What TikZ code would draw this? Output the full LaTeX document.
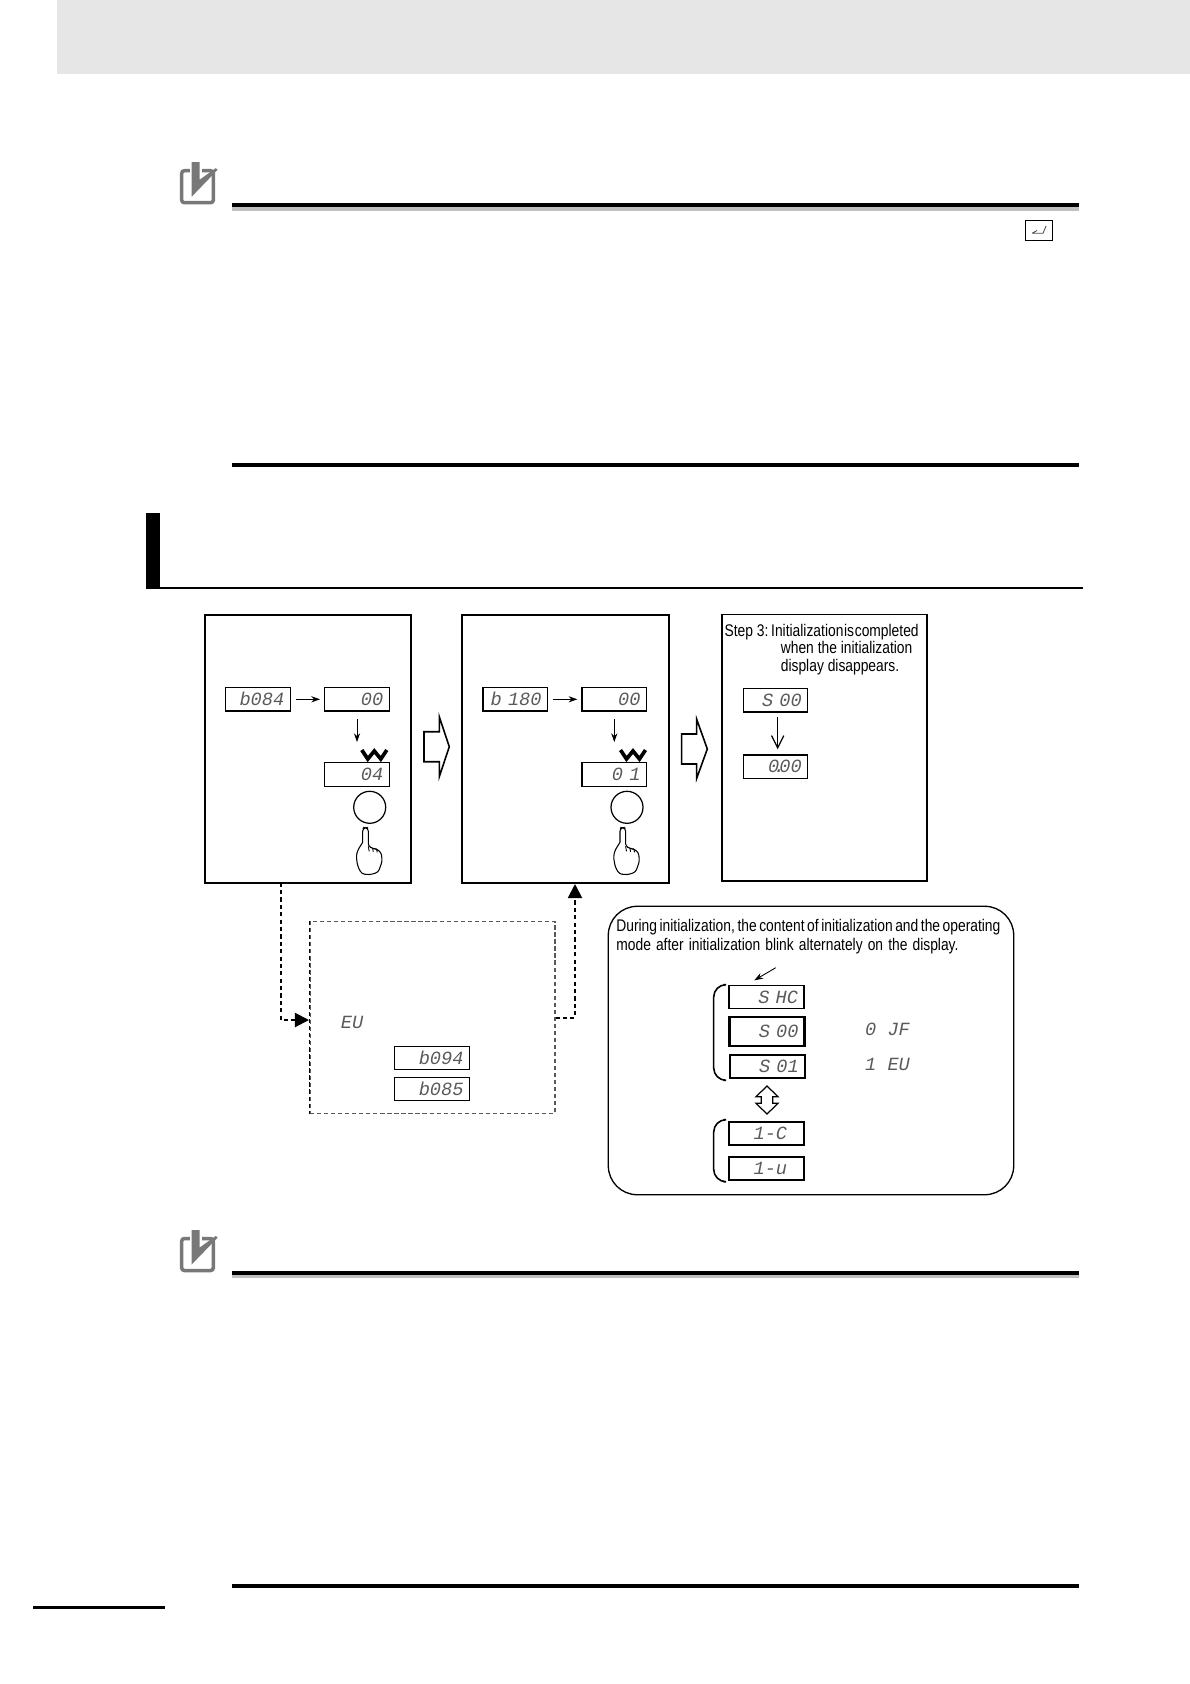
\documentclass[tikz,border=0pt]{standalone}
\usepackage{fontspec}
\usepackage{xcolor}
\usetikzlibrary{calc,arrows.meta,positioning,shapes.geometric}
\setmainfont{Liberation Sans}
\newfontfamily\captfont[FakeStretch=0.82]{Liberation Sans}
\newfontfamily\segfont{Liberation Mono}
\definecolor{headgrey}{RGB}{230,230,230}
\definecolor{icongrey}{RGB}{120,120,120}
\definecolor{seggrey}{RGB}{90,90,90}
\tikzset{
  panelbox/.style={draw, line width=1.1pt, minimum width=4.13cm, minimum height=5.36cm, inner sep=0pt},
  display/.style={draw, line width=.8pt, minimum width=1.29cm, minimum height=.47cm,
    inner xsep=.12cm, inner ysep=0pt, text width=1.05cm, align=right, text=seggrey,
    font=\segfont\itshape\fontsize{10.6}{11}\selectfont},
  widedisplay/.style={display, minimum width=1.5cm, text width=1.26cm},
  seglabel/.style={inner sep=0pt, text=seggrey, font=\segfont\itshape\fontsize{10.6}{11}\selectfont},
  capttext/.style={inner sep=0pt, anchor=base west, align=left, font=\captfont\fontsize{9.6}{10.6}\selectfont},
  keyround/.style={draw, circle, line width=.7pt, minimum size=.64cm, inner sep=0pt},
  thinarrow/.style={-{Stealth[length=5pt,width=3.5pt]}, line width=.5pt},
  dashlink/.style={-{Triangle[length=8pt,width=8pt]}, line width=1.1pt, dash pattern=on 2.4pt off 1.8pt},
  hollowarrow/.style={line width=.9pt, fill=white},
  heavyrule/.style={fill=black},
  notemark/.pic={
    \draw[icongrey, line width=2pt, rounded corners=1.5pt] (0,0) rectangle (31.6,32);
    \fill[white] (8,-9) rectangle (20,4);
    \fill[icongrey] (10,-8.5) -- (18,-8.5) -- (18,9) -- (34,-2.5) -- (36,-1) -- (10,26) -- cycle;
  },
  presshand/.pic={
    \draw[line width=.6pt, rounded corners=1.6pt] (-7,35) -- (-7,21) -- (-4.3,20.5) -- (-1.4,21) -- (-1.4,39) -- (3,41) -- (7,42)
      -- (11.5,45) -- (12.5,54) -- (8.5,65) -- (0,67.5) -- (-8,66.5) -- (-12,59) -- (-13.5,49) -- (-12,43) -- (-7,35);
    \draw[line width=.5pt] (-1.4,39) -- (-.5,44) (3,41) -- (3.5,44.5) (7,42) -- (7.5,45);
  },
  nodevee/.pic={
    \draw[line width=2.1pt, line join=miter] (-12.5,-5) -- (-6.5,4) -- (0,-4) -- (6.5,4) -- (12.5,-5);
  }
}
\begin{document}
\begin{tikzpicture}[x=0.02cm, y=-0.02cm]
  \useasboundingbox (0,0) rectangle (1190,1684);
  % page furniture
  \fill[headgrey] (57,0) rectangle (1190,74);
  \pic at (181.7,170.7) {notemark};
  \fill[heavyrule] (231.7,202.7) rectangle (1079,207.3);
  \fill[black!25] (231.7,207.3) rectangle (1079,210.5);
  \node[draw, line width=.6pt, minimum width=.55cm, minimum height=.4cm, inner sep=0pt] (enterkey) at (1039,230.3) {};
  \draw[black!70, line width=.5pt] (1046,226) -- (1043,233.3) -- (1032,233.3) (1032,233.3) -- (1037,230.5);
  \fill[heavyrule] (231.7,463) rectangle (1079,466.5);
  \fill[heavyrule] (146,513.3) rectangle (160,588.7);
  \fill[heavyrule] (160,586.8) rectangle (1083,588.7);
  \pic at (181.7,1238.5) {notemark};
  \fill[heavyrule] (231.7,1270.7) rectangle (1079,1275);
  \fill[black!25] (231.7,1275) rectangle (1079,1278);
  \fill[heavyrule] (231.7,1583.7) rectangle (1079,1587.7);
  \fill[heavyrule] (33,1606) rectangle (165,1608.6);

  % step panels
  \node[panelbox] (stepA) at (308,748.7) {};
  \node[panelbox] (stepB) at (565.3,748.7) {};
  \node[panelbox, minimum width=4.11cm, minimum height=5.33cm] (stepC) at (824.5,747.7) {};

  % step 1
  \node[display] (dispA) at (258,699.3) {b084};
  \node[display] (dispB) at (357,699.3) {00};
  \node[display] (dispC) at (357,774.5) {04};
  \node[keyround] (keyA) at (369.7,807.3) {};
  \pic at (374.3,755) {nodevee};
  \pic at (keyA.center) {presshand};
  \draw[thinarrow, shorten <=.1cm, shorten >=.08cm] (dispA) -- (dispB);
  \draw[thinarrow, shorten <=.14cm, shorten >=.4cm] (dispB) -- (dispC);

  % step 2
  \node[display] (dispD) at (515.3,699.3) {b 180};
  \node[display] (dispE) at (614.3,699.3) {00};
  \node[display] (dispF) at (614.3,774.5) {0 1};
  \node[keyround] (keyB) at (627,807.3) {};
  \pic at (633,755) {nodevee};
  \pic at (keyB.center) {presshand};
  \draw[thinarrow, shorten <=.1cm, shorten >=.08cm] (dispD) -- (dispE);
  \draw[thinarrow, shorten <=.14cm, shorten >=.4cm] (dispE) -- (dispF);

  % step 3
  \node[capttext, font=\captfont\fontsize{9.6}{10.1}\selectfont] (stepCtext) at (724.3,671.7) {\makebox[26.5pt][l]{Step 3:}Initialization\hspace{.4pt}is\hspace{.4pt}completed\\
    \hspace*{32pt}when the initialization\\\hspace*{32pt}display disappears.};
  \node[display] (dispG) at (775.5,700.3) {S 00};
  \node[display] (dispH) at (775.5,766.7) {0\kern-.3em.\kern-.3em00};
  \draw[-{Straight Barb[length=7pt,width=7pt]}, line width=.7pt, shorten <=.09cm, shorten >=.1cm] ([xshift=.044cm]dispG.south) -- ([xshift=.044cm]dispH.north);

  % arrows between the steps
  \draw[hollowarrow] (424,731.7) -- (439.3,731.7) -- (439.3,716.7) -- (449.3,746.7) -- (439.3,776.7) -- (439.3,761.7) -- (424,761.7) -- cycle;
  \draw[hollowarrow] (681.7,734) -- (696.7,734) -- (696.7,719.3) -- (707.3,749) -- (696.7,778.3) -- (696.7,764) -- (681.7,764) -- cycle;

  % dashed detour
  \node[draw=black!65, dashed, dash pattern=on 2.4pt off 1.6pt, line width=.6pt, minimum width=4.9cm, minimum height=3.84cm, inner sep=0pt] (initbox) at (432.5,1017.3) {};
  \draw[line width=1pt, dash pattern=on 2.4pt off 1.6pt] (initbox.north west) -- (initbox.south west);
  \coordinate (leaveA) at (280.7,882.7);
  \coordinate (enterA) at (309,1020);
  \coordinate (leaveB) at (555.5,1018);
  \coordinate (enterB) at (575,884);
  \draw[dashlink] (leaveA) |- (enterA);
  \draw[dashlink] (leaveB) -| (enterB);
  \node[seglabel] (euA) at (352,1022.7) {EU};
  \node[widedisplay, minimum height=.46cm] (dispI) at (432,1057.8) {b094};
  \node[widedisplay, minimum height=.46cm] (dispJ) at (432,1089) {b085};

  % blink panel
  \node[draw, line width=.75pt, rounded corners=.58cm, minimum width=8.11cm, minimum height=5.77cm, inner sep=0pt] (blinkbox) at (811,1050.5) {};
  \node[capttext] (blinktext) at (616,950.3) {\spaceskip=1.45pt\relax During initialization, the content of initialization and the operating\\
    \spaceskip=2.9pt\relax mode after initialization blink alternately on the display.};
  \node[widedisplay, minimum height=.46cm] (dispK) at (766.5,997.2) {S HC};
  \node[widedisplay, line width=1.2pt, minimum height=.57cm] (dispL) at (767,1031.6) {S 00};
  \node[widedisplay, line width=1pt, minimum height=.46cm] (dispM) at (767.3,1066.8) {S 01};
  \node[widedisplay, line width=1pt, minimum height=.46cm] (dispN) at (766.8,1133.2) {1-C\phantom{0}};
  \node[widedisplay, line width=1pt, minimum height=.46cm] (dispO) at (766.8,1168.2) {1-u\phantom{0}};
  \coordinate (pointer) at (775.7,967.7);
  \draw[thinarrow] (pointer) -- ($(dispK.north)+(-12.2,-4.7)$);
  \node[seglabel] (labelOff) at (887.5,1029) {0 JF};
  \node[seglabel] (labelEu) at (887.5,1064) {1 EU};
  \draw[line width=.9pt, rounded corners=7pt] (723.3,984.7) -- (713.7,984.7) -- (713.7,1080.3) -- (723.3,1080.3);
  \draw[line width=.9pt, rounded corners=7pt] (723.3,1119.7) -- (713.7,1119.7) -- (713.7,1181.7) -- (723.3,1181.7);
  \draw[hollowarrow, line width=.7pt] (767,1086) -- (778,1096.7) -- (772.7,1096.7) -- (772.7,1103.3) -- (778,1103.3) -- (767,1114)
    -- (756,1103.3) -- (761.3,1103.3) -- (761.3,1096.7) -- (756,1096.7) -- cycle;
\end{tikzpicture}
\end{document}
